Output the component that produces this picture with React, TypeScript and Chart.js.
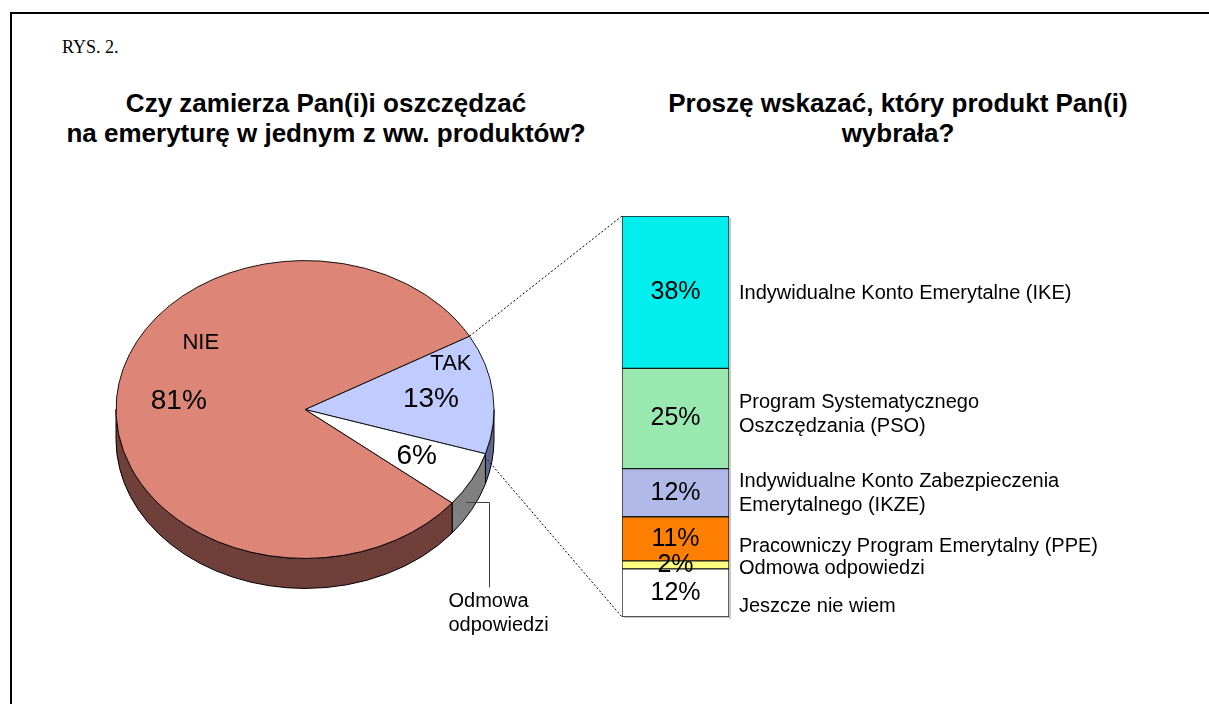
import React, { useEffect, useRef } from "react";
import { Chart, registerables } from "chart.js";

Chart.register(...registerables);

const SANS = '"Liberation Sans", Arial, Helvetica, sans-serif';
const SERIF = '"Liberation Serif", "Times New Roman", serif';

// ---- texts ----
const figureLabel = "RYS. 2.";
const pieTitleLines = ["Czy zamierza Pan(i)i oszczędzać", "na emeryturę w jednym z ww. produktów?"];
const barTitleLines = ["Proszę wskazać, który produkt Pan(i)", "wybrała?"];

// ---- pie data (clockwise from the TAK slice) ----
const pieCategories = ["TAK", "Odmowa odpowiedzi", "NIE"];
const pieValues = [13, 6, 81];
const pieTopColors = ["#C0CCFF", "#FFFFFF", "#DD8577"];
const pieSideColors = ["#5F6690", "#808080", "#6E4039"];
const pieInsideNames = ["TAK", "", "NIE"];
const pieOutsideNameLines = ["Odmowa", "odpowiedzi"];

// ---- stacked bar data (bottom to top) ----
const barCategories = [
  "Jeszcze nie wiem",
  "Odmowa odpowiedzi",
  "Pracowniczy Program Emerytalny (PPE)",
  "Indywidualne Konto Zabezpieczenia Emerytalnego (IKZE)",
  "Program Systematycznego Oszczędzania (PSO)",
  "Indywidualne Konto Emerytalne (IKE)",
];
const barLabelLines = [
  ["Jeszcze nie wiem"],
  ["Odmowa odpowiedzi"],
  ["Pracowniczy Program Emerytalny (PPE)"],
  ["Indywidualne Konto Zabezpieczenia", "Emerytalnego (IKZE)"],
  ["Program Systematycznego", "Oszczędzania (PSO)"],
  ["Indywidualne Konto Emerytalne (IKE)"],
];
const barValues = [12, 2, 11, 12, 25, 38];
const barColors = ["#FFFFFF", "#FFFF80", "#FF8000", "#B0B9E8", "#99E8B0", "#00EEEE"];

// ---- style constants ----
const TILT = 0.788;
const DEPTH = 30;
const PIE_ROTATION = 60.5;
const PIE_RADIUS = 189;
const pieNameOffsets = [
  [20, -35],
  [0, 0],
  [22, -58],
];
const barLabelNudge = [13.5, 4, 7.5, 1, -4, 1];

function wallPath(ctx: CanvasRenderingContext2D, cx: number, cy: number, R: number, s: number, e: number) {
  ctx.beginPath();
  ctx.ellipse(cx, cy, R, R * TILT, 0, s, e, false);
  ctx.ellipse(cx, cy + DEPTH, R, R * TILT, 0, e, s, true);
  ctx.closePath();
}

function rim(p: any, ang: number) {
  return { x: p.x + p.outerRadius * Math.cos(ang), y: p.y + p.outerRadius * TILT * Math.sin(ang) };
}

const pie3dPlugin = {
  id: "pie3d",
  beforeDatasetsDraw(chart: any) {
    const ctx: CanvasRenderingContext2D = chart.ctx;
    const arcs = chart.getDatasetMeta(0).data;
    ctx.save();
    arcs.forEach((arc: any, i: number) => {
      const p = arc.getProps(["x", "y", "startAngle", "endAngle", "outerRadius"], true);
      [-2 * Math.PI, 0, 2 * Math.PI].forEach((off) => {
        const s = Math.max(p.startAngle, off);
        const e = Math.min(p.endAngle, off + Math.PI);
        if (e > s) {
          wallPath(ctx, p.x, p.y, p.outerRadius, s, e);
          ctx.fillStyle = pieSideColors[i];
          ctx.fill();
          ctx.lineWidth = 1;
          ctx.strokeStyle = "#000";
          ctx.stroke();
        }
      });
    });
    ctx.restore();
    const a = arcs[0];
    ctx.save();
    ctx.translate(a.x, a.y);
    ctx.scale(1, TILT);
    ctx.translate(-a.x, -a.y);
  },
  afterDatasetsDraw(chart: any) {
    const ctx: CanvasRenderingContext2D = chart.ctx;
    ctx.restore();
    const arcs = chart.getDatasetMeta(0).data;
    ctx.save();
    ctx.fillStyle = "#000";
    ctx.textBaseline = "middle";
    arcs.forEach((arc: any, i: number) => {
      const p = arc.getProps(["x", "y", "startAngle", "endAngle", "outerRadius"], true);
      const mid = (p.startAngle + p.endAngle) / 2;
      const r = p.outerRadius * 0.67;
      const lx = p.x + r * Math.cos(mid);
      const ly = p.y + r * TILT * Math.sin(mid);
      ctx.textAlign = "center";
      ctx.font = `28px ${SANS}`;
      ctx.fillText(`${pieValues[i]}%`, lx, ly);
      if (pieInsideNames[i]) {
        ctx.font = `22px ${SANS}`;
        ctx.fillText(pieInsideNames[i], lx + pieNameOffsets[i][0], ly + pieNameOffsets[i][1]);
      } else {
        // outside label with leader line
        const anchor = rim(p, mid + (4 * Math.PI) / 180);
        const ax = Math.round(anchor.x) + 0.5;
        const ay = Math.round(anchor.y + DEPTH * 0.45) + 0.5;
        const bx = ax + 24;
        const by = Math.round(p.y + p.outerRadius * TILT + DEPTH - 1) + 0.5;
        ctx.save();
        ctx.strokeStyle = "#404040";
        ctx.lineWidth = 1;
        ctx.beginPath();
        ctx.moveTo(ax, ay);
        ctx.lineTo(bx, ay);
        ctx.lineTo(bx, by);
        ctx.stroke();
        ctx.restore();
        ctx.font = `20px ${SANS}`;
        ctx.textAlign = "left";
        pieOutsideNameLines.forEach((t, j) => {
          ctx.fillText(t, ax - 17, by + 14 + j * 23.5);
        });
      }
    });
    ctx.restore();
  },
};

export default function App() {
  const pieRef = useRef<HTMLCanvasElement>(null);
  const barRef = useRef<HTMLCanvasElement>(null);

  useEffect(() => {
    if (!pieRef.current || !barRef.current) return;
    const pie = new Chart(pieRef.current, {
      type: "pie",
      data: {
        labels: pieCategories,
        datasets: [
          {
            data: pieValues,
            backgroundColor: pieTopColors,
            borderColor: "#000",
            borderWidth: 1,
            clip: false,
          } as any,
        ],
      },
      options: {
        animation: false,
        responsive: false,
        events: [],
        rotation: PIE_ROTATION,
        radius: PIE_RADIUS,
        layout: { padding: { left: 0, right: 599, top: 115, bottom: 0 } },
        plugins: { legend: { display: false }, tooltip: { enabled: false } },
      } as any,
      plugins: [pie3dPlugin as any],
    });

    const barPlugin = {
      id: "barLabels",
      beforeDatasetsDraw(chart: any) {
        // soft shadow at the right of the column
        const ctx: CanvasRenderingContext2D = chart.ctx;
        const area = chart.chartArea;
        ctx.save();
        ctx.fillStyle = "#C8C8C8";
        ctx.fillRect(area.right, area.top + 2, 2, area.bottom - area.top);
        ctx.fillRect(area.left + 2, area.bottom, area.right - area.left, 1);
        ctx.restore();
      },
      afterDatasetsDraw(chart: any) {
        const ctx: CanvasRenderingContext2D = chart.ctx;
        const area = chart.chartArea;
        ctx.save();
        ctx.fillStyle = "#000";
        ctx.textBaseline = "middle";
        barValues.forEach((v, i) => {
          const el = chart.getDatasetMeta(i).data[0];
          const { x, y, base } = el.getProps(["x", "y", "base"], true);
          const cy = (y + base) / 2;
          ctx.font = `25px ${SANS}`;
          ctx.textAlign = "center";
          ctx.fillText(`${v}%`, x, cy);
          const lines = barLabelLines[i];
          ctx.font = `20px ${SANS}`;
          ctx.textAlign = "left";
          const ly = cy + barLabelNudge[i];
          lines.forEach((t, j) => {
            ctx.fillText(t, area.right + 10, ly + (j - (lines.length - 1) / 2) * 24);
          });
        });
        // dotted connectors from the TAK slice of the pie to the bar
        const tak = pie.getDatasetMeta(0).data[0] as any;
        const p = tak.getProps(["x", "y", "startAngle", "endAngle", "outerRadius"], true);
        const s = rim(p, p.startAngle);
        const e = rim(p, p.endAngle);
        ctx.strokeStyle = "#000";
        ctx.lineWidth = 1;
        ctx.setLineDash([2, 2]);
        ctx.beginPath();
        ctx.moveTo(s.x, s.y);
        ctx.lineTo(area.left, area.top);
        ctx.moveTo(e.x + 2, e.y + 6);
        ctx.lineTo(area.left, area.bottom);
        ctx.stroke();
        ctx.restore();
      },
    };

    const bar = new Chart(barRef.current, {
      type: "bar",
      data: {
        labels: [""],
        datasets: barCategories.map((c, i) => ({
          label: c,
          data: [barValues[i]],
          backgroundColor: barColors[i],
          borderColor: "#1a1a1a",
          borderWidth: 1,
          borderSkipped: false,
          categoryPercentage: 1,
          barPercentage: 1,
        })) as any,
      },
      options: {
        animation: false,
        responsive: false,
        events: [],
        layout: { padding: { left: 622, right: 480, top: 216, bottom: 87 } },
        scales: {
          x: { stacked: true, display: false },
          y: { stacked: true, display: false, min: 0, max: 100 },
        },
        plugins: { legend: { display: false }, tooltip: { enabled: false } },
      } as any,
      plugins: [barPlugin as any],
    });

    return () => {
      bar.destroy();
      pie.destroy();
    };
  }, []);

  const titleStyle: React.CSSProperties = {
    position: "absolute",
    top: 88,
    width: 600,
    textAlign: "center",
    fontFamily: SANS,
    fontWeight: "bold",
    fontSize: 26,
    lineHeight: "30px",
    color: "#000",
    whiteSpace: "nowrap",
  };

  return (
    <div
      style={{
        position: "absolute",
        left: 0,
        top: 0,
        width: 1209,
        height: 704,
        background: "#fff",
        overflow: "hidden",
      }}
    >
      <div
        style={{
          position: "absolute",
          left: 10,
          top: 12,
          width: 1209,
          height: 704,
          borderLeft: "2px solid #000",
          borderTop: "2px solid #000",
        }}
      />
      <div
        style={{
          position: "absolute",
          left: 62,
          top: 36,
          fontFamily: SERIF,
          fontSize: 18,
          lineHeight: "22px",
          color: "#000",
        }}
      >
        {figureLabel}
      </div>
      <div style={{ ...titleStyle, left: 26 }}>
        {pieTitleLines.map((t, i) => (
          <div key={i}>{t}</div>
        ))}
      </div>
      <div style={{ ...titleStyle, left: 598 }}>
        {barTitleLines.map((t, i) => (
          <div key={i}>{t}</div>
        ))}
      </div>
      <canvas ref={pieRef} width={1209} height={704} style={{ position: "absolute", left: 0, top: 0 }} />
      <canvas ref={barRef} width={1209} height={704} style={{ position: "absolute", left: 0, top: 0 }} />
    </div>
  );
}
